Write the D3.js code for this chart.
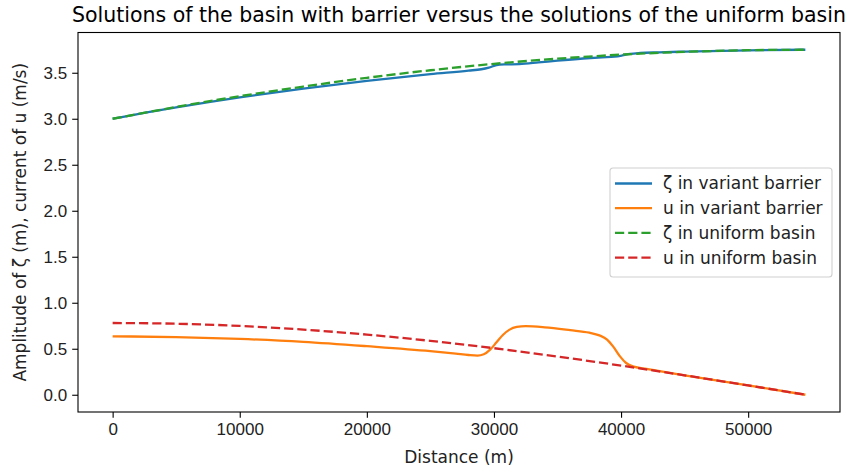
<!DOCTYPE html>
<html>
<head>
<meta charset="utf-8">
<script src="https://cdn.jsdelivr.net/npm/d3@7"></script>
<style>
  html, body { margin: 0; padding: 0; background: #fff; }
  svg { display: block; font-family: "DejaVu Sans", sans-serif; }
  .tick text { font-size: 17px; fill: #222; }
</style>
</head>
<body>
<svg id="chart" width="848" height="468"></svg>
<script>
// values
const L = 54500;

const zetaUniformX = [0, 5000, 10000, 15000, 20000, 25000, 30000, 35000, 40000, 45000, 50000, 54500];
const zetaUniformY = [3.0, 3.128, 3.245, 3.35, 3.445, 3.527, 3.597, 3.653, 3.697, 3.727, 3.745, 3.75];

const zetaBarrierX = [0, 5000, 10000, 15000, 20000, 25000, 28000, 29000, 29600, 30200, 30800, 32000, 33500,
  35000, 37000, 38500, 39500, 40100, 40700, 41500, 43000, 45000, 50000, 54500];
const zetaBarrierY = [3.0, 3.123, 3.232, 3.328, 3.412, 3.485, 3.523, 3.538, 3.556, 3.582, 3.59, 3.594, 3.612,
  3.632, 3.655, 3.668, 3.675, 3.688, 3.705, 3.715, 3.722, 3.73, 3.744, 3.75];

const uUniformX = [0, 5000, 10000, 15000, 20000, 25000, 30000, 35000, 40000, 45000, 50000, 54500];
const uUniformY = [0.78, 0.772, 0.748, 0.708, 0.654, 0.586, 0.506, 0.415, 0.317, 0.211, 0.101, 0.0];

const uBarrierX = [0, 5000, 10000, 15000, 20000, 25000, 27000, 28000, 28700, 29200, 29700, 30200, 30700,
  31200, 31800, 32500, 34000, 36000, 37500, 38300, 38900, 39400, 39900, 40400, 41000, 42000, 45000, 50000, 54500];
const uBarrierY = [0.635, 0.627, 0.607, 0.575, 0.528, 0.474, 0.447, 0.432, 0.426, 0.44, 0.49, 0.57, 0.65,
  0.705, 0.737, 0.745, 0.733, 0.702, 0.675, 0.645, 0.6, 0.52, 0.42, 0.345, 0.305, 0.281, 0.211, 0.101, 0.0];

const xTicks = [0, 10000, 20000, 30000, 40000, 50000];
const yTicks = [0, 0.5, 1.0, 1.5, 2.0, 2.5, 3.0, 3.5];

(function () {
  "use strict";

  const series = [
    { label: "ζ in variant barrier", xs: zetaBarrierX, ys: zetaBarrierY, color: "#1f77b4", dash: null },
    { label: "u in variant barrier", xs: uBarrierX, ys: uBarrierY, color: "#ff7f0e", dash: null },
    { label: "ζ in uniform basin", xs: zetaUniformX, ys: zetaUniformY, color: "#2ca02c", dash: "9.2,4" },
    { label: "u in uniform basin", xs: uUniformX, ys: uUniformY, color: "#d62728", dash: "9.2,4" }
  ];

  const svg = d3.select("#chart");
  const m = { left: 78, right: 840, top: 32.5, bottom: 412 };

  const yMin = 0, yMax = 3.75;
  const x = d3.scaleLinear().domain([-0.05 * L, 1.05 * L]).range([m.left, m.right]);
  const y = d3.scaleLinear()
    .domain([yMin - 0.05 * (yMax - yMin), yMax + 0.05 * (yMax - yMin)])
    .range([m.bottom, m.top]);

  const line = d3.line()
    .x((d) => x(d[0]))
    .y((d) => y(d[1]))
    .curve(d3.curveMonotoneX);

  const plot = svg.append("g");
  series.forEach((s) => {
    plot.append("path")
      .datum(s.xs.map((v, i) => [v, s.ys[i]]))
      .attr("fill", "none")
      .attr("stroke", s.color)
      .attr("stroke-width", 2.3)
      .attr("stroke-dasharray", s.dash)
      .attr("d", line);
  });

  // axes
  const xAxis = svg.append("g")
    .attr("transform", `translate(0,${m.bottom})`)
    .call(d3.axisBottom(x).tickValues(xTicks).tickFormat(d3.format("d")).tickSizeOuter(0).tickSize(5.8).tickPadding(5));
  const yAxis = svg.append("g")
    .attr("transform", `translate(${m.left},0)`)
    .call(d3.axisLeft(y).tickValues(yTicks).tickFormat(d3.format(".1f")).tickSizeOuter(0).tickSize(5.8).tickPadding(5));
  [xAxis, yAxis].forEach((g) => {
    g.select(".domain").remove();
    g.selectAll(".tick line").attr("stroke", "#000").attr("stroke-width", 1.1);
  });

  svg.append("rect")
    .attr("x", m.left).attr("y", m.top)
    .attr("width", m.right - m.left).attr("height", m.bottom - m.top)
    .attr("fill", "none").attr("stroke", "#000").attr("stroke-width", 1.1);

  svg.append("text")
    .attr("x", (m.left + m.right) / 2).attr("y", 22)
    .attr("text-anchor", "middle")
    .attr("font-size", 20.5).attr("fill", "#000")
    .text("Solutions of the basin with barrier versus the solutions of the uniform basin");

  svg.append("text")
    .attr("x", (m.left + m.right) / 2).attr("y", 463)
    .attr("text-anchor", "middle")
    .attr("font-size", 17).attr("fill", "#222")
    .text("Distance (m)");

  svg.append("text")
    .attr("transform", `translate(26,${(m.top + m.bottom) / 2}) rotate(-90)`)
    .attr("text-anchor", "middle")
    .attr("font-size", 17).attr("fill", "#222")
    .text("Amplitude of ζ (m), current of u (m/s)");

  // legend
  const lg = svg.append("g").attr("transform", "translate(610,168)");
  lg.append("rect")
    .attr("width", 222).attr("height", 109).attr("rx", 3)
    .attr("fill", "#fff").attr("fill-opacity", 0.8)
    .attr("stroke", "#d0d0d0").attr("stroke-width", 1.1);
  series.forEach((s, i) => {
    const cy = 15.5 + i * 24.7;
    lg.append("line")
      .attr("x1", 5).attr("x2", 42).attr("y1", cy).attr("y2", cy)
      .attr("stroke", s.color).attr("stroke-width", 2.3)
      .attr("stroke-dasharray", s.dash);
    lg.append("text")
      .attr("x", 53).attr("y", cy).attr("dy", "0.35em")
      .attr("font-size", 17).attr("fill", "#222")
      .text(s.label);
  });
})();
</script>
</body>
</html>
